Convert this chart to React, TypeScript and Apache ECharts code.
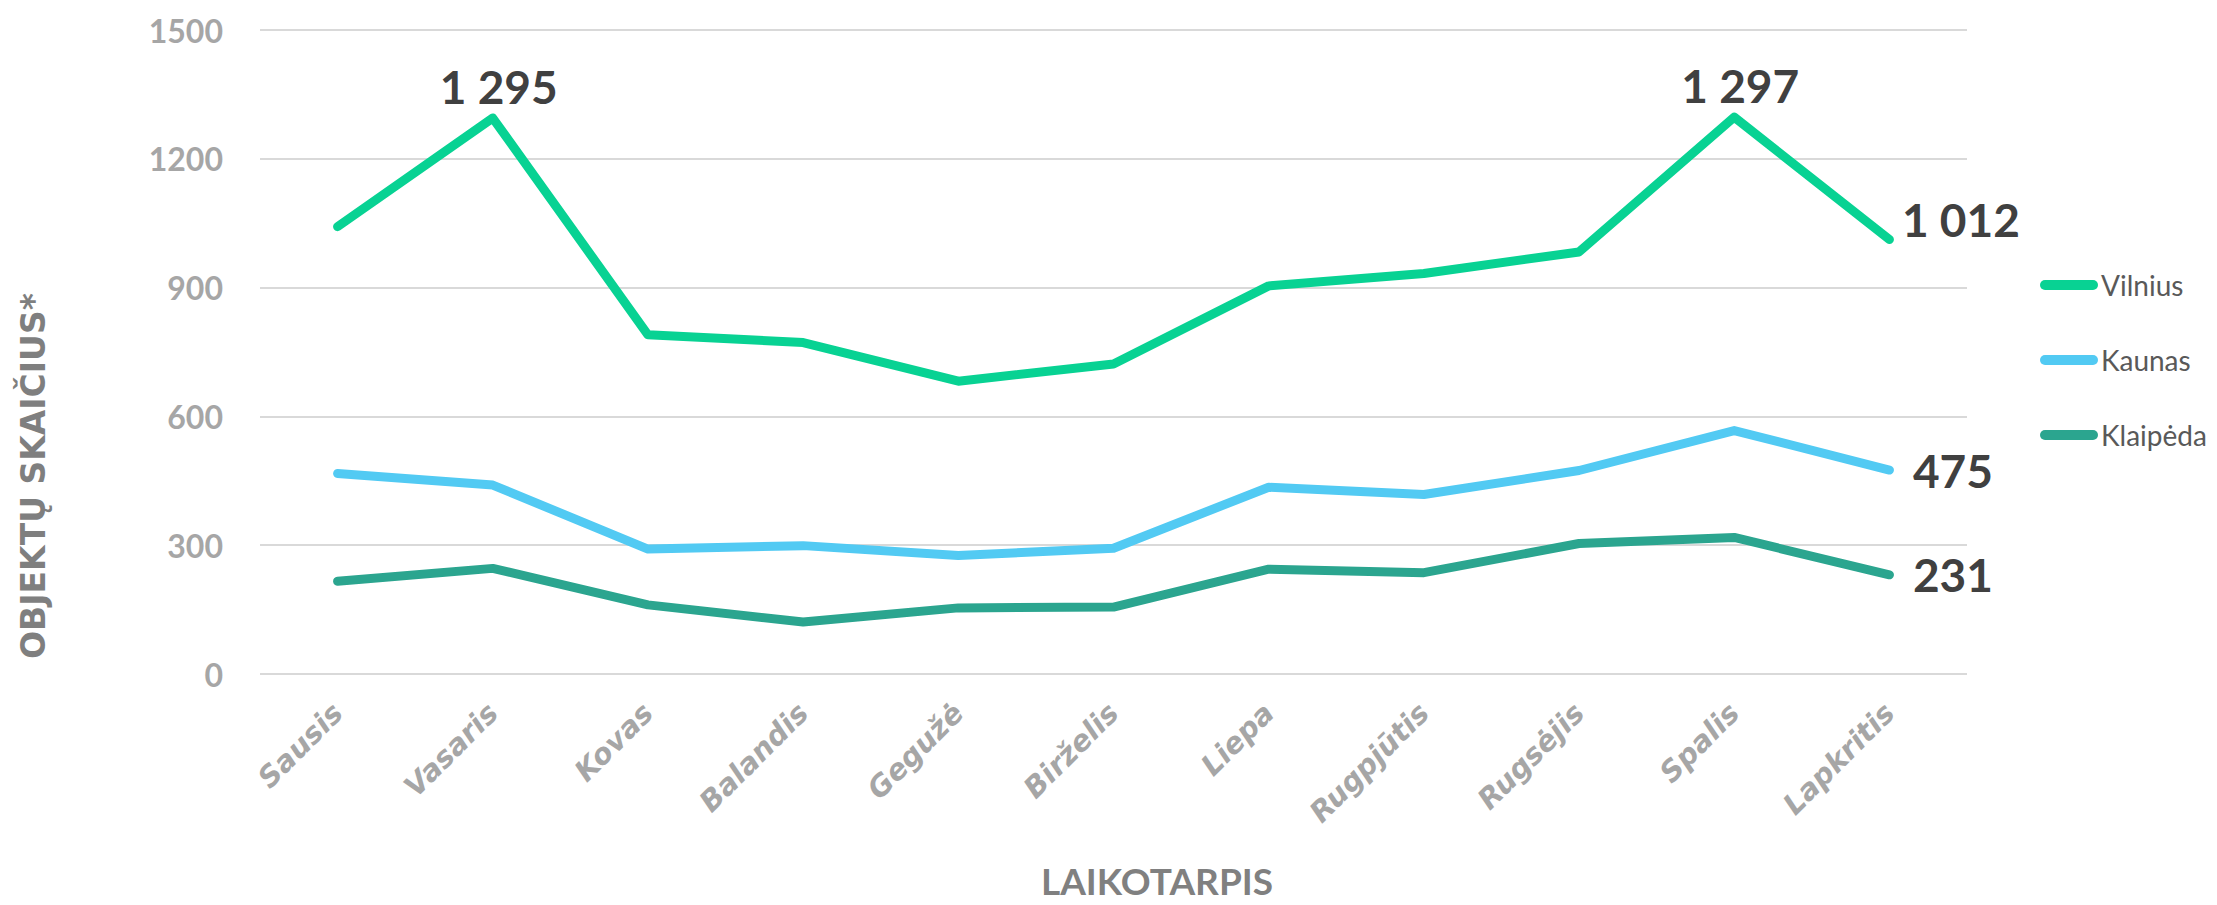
import React, { useEffect, useRef } from "react";
import * as echarts from "echarts";

const categories = ["Sausis", "Vasaris", "Kovas", "Balandis", "Gegužė", "Birželis", "Liepa", "Rugpjūtis", "Rugsėjis", "Spalis", "Lapkritis"];
const vilnius = [1042, 1295, 790, 772, 682, 722, 904, 933, 983, 1297, 1012];
const kaunas = [467, 440, 291, 299, 276, 293, 435, 418, 474, 567, 475];
const klaipeda = [216, 246, 161, 121, 154, 156, 244, 236, 304, 318, 231];
const yTicks = { min: 0, max: 1500, interval: 300 };

const seriesNames = ["Vilnius", "Kaunas", "Klaipėda"];
const colors = ["#08D293", "#52CAF3", "#2BA58F"];

const fmt = (v: number) => String(v).replace(/\B(?=(\d{3})+(?!\d))/g, " ");

const labelBase = {
  show: true,
  fontFamily: "Lato",
  fontWeight: "bold" as const,
  fontSize: 46,
  color: "#404040",
};

function buildData(values: number[], labels: Record<number, any>) {
  return values.map((v, i) =>
    labels[i]
      ? { value: v, label: { ...labelBase, formatter: fmt(v), ...labels[i] } }
      : { value: v, label: { show: false } }
  );
}

function lineSeries(idx: number, values: number[], labels: Record<number, any>) {
  return {
    name: seriesNames[idx],
    type: "line",
    symbol: "circle",
    symbolSize: 1,
    showSymbol: true,
    lineStyle: { color: colors[idx], width: 9, cap: "round", join: "round" },
    itemStyle: { color: colors[idx] },
    label: { show: false },
    data: buildData(values, labels),
  };
}

export default function App() {
  const ref = useRef<HTMLDivElement>(null);
  useEffect(() => {
    if (!ref.current) return;
    const chart = echarts.init(ref.current, null, { renderer: "svg" });
    const last = categories.length - 1;
    chart.setOption({
      animation: false,
      backgroundColor: "#ffffff",
      grid: { left: 260, right: 250, top: 30, bottom: 231, containLabel: false },
      legend: {
        orient: "vertical",
        left: 2040,
        top: 270,
        itemWidth: 58,
        itemHeight: 10,
        itemGap: 45,
        padding: 0,
        icon: "path://M5,0 L53,0 A5,5 0 0 1 53,10 L5,10 A5,5 0 0 1 5,0 Z",
        data: seriesNames,
        textStyle: { fontFamily: "Lato", fontSize: 28, color: "#595959", lineHeight: 30, padding: [0, 0, 0, -2] },
      },
      xAxis: {
        type: "category",
        data: categories,
        boundaryGap: true,
        axisLine: { show: false },
        axisTick: { show: false },
        axisLabel: {
          interval: 0,
          rotate: 45,
          margin: 34,
          fontFamily: "DejaVu Sans",
          fontWeight: "bold",
          fontStyle: "italic",
          fontSize: 29,
          color: "#A6A6A6",
        },
      },
      yAxis: {
        type: "value",
        min: yTicks.min,
        max: yTicks.max,
        interval: yTicks.interval,
        axisLine: { show: false },
        axisTick: { show: false },
        splitLine: { lineStyle: { color: "#D9D9D9", width: 2 } },
        axisLabel: {
          margin: 37,
          fontFamily: "Lato",
          fontWeight: "bold",
          fontSize: 32,
          color: "#A6A6A6",
          formatter: (v: number) => String(v),
        },
      },
      graphic: [
        {
          type: "text",
          x: 33,
          y: 476,
          rotation: Math.PI / 2,
          style: {
            text: "OBJEKTŲ SKAIČIUS*",
            font: "bold 33px 'DejaVu Sans'",
            fill: "#7F7F7F",
            align: "center",
            verticalAlign: "middle",
          },
        },
        {
          type: "text",
          x: 1157,
          y: 880,
          style: {
            text: "LAIKOTARPIS",
            font: "bold 37px Lato",
            fill: "#808080",
            align: "center",
            verticalAlign: "middle",
          },
        },
      ],
      series: [
        lineSeries(0, vilnius, {
          1: { position: "top", distance: 8, offset: [6, 0] },
          9: { position: "top", distance: 8, offset: [6, 0] },
          [last]: { position: "right", distance: 12, offset: [0, -20] },
        }),
        lineSeries(1, kaunas, { [last]: { position: "right", distance: 23 } }),
        lineSeries(2, klaipeda, { [last]: { position: "right", distance: 23 } }),
      ],
    });
    return () => chart.dispose();
  }, []);
  return (
    <div
      ref={ref}
      style={{ position: "fixed", left: 0, top: 0, width: 2217, height: 905, background: "#fff" }}
    />
  );
}
